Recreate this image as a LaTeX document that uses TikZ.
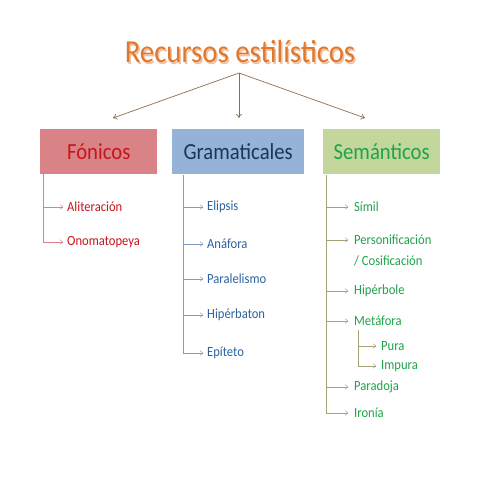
\documentclass[tikz,border=0pt]{standalone}
\usepackage{fontspec}
\usepackage{graphicx}
\setmainfont{Carlito}
\usetikzlibrary{arrows.meta}
\definecolor{titlec}{HTML}{E0782F}
\definecolor{brownl}{HTML}{8C6E4E}
\definecolor{redfill}{HTML}{D98387}
\definecolor{redtxt}{HTML}{C4161C}
\definecolor{redline}{HTML}{D98387}
\definecolor{bluefill}{HTML}{95B3D7}
\definecolor{bluetxt}{HTML}{17375E}
\definecolor{blueitem}{HTML}{2B63A0}
\definecolor{blueline}{HTML}{7F9CC4}
\definecolor{greenfill}{HTML}{C3D69B}
\definecolor{greentxt}{HTML}{1FA34A}
\definecolor{greenline}{HTML}{A8A27A}
\newcommand{\nar}[1]{\scalebox{0.9}[1]{#1}}
\tikzset{
  cat/.style={draw=none, minimum height=45pt, inner sep=0pt, font=\fontsize{23}{26}\selectfont, anchor=north west},
  item/.style={anchor=west, inner sep=0pt, font=\fontsize{14}{16}\selectfont},
  tip/.style={-{To[length=3pt,width=5pt]}, line width=0.5pt},
  main/.style={-{To[length=4pt,width=6pt]}, line width=0.7pt, draw=brownl},
}
\begin{document}
\begin{tikzpicture}[x=1pt,y=-1pt]
\useasboundingbox (0,0) rectangle (480,480);
\fill[white] (0,0) rectangle (480,480);
% title
\node[text=titlec!45, font=\fontsize{32}{36}\selectfont] at (241.5,53.5) {\nar{Recursos estilísticos}};
\node (title) [text=titlec, font=\fontsize{32}{36}\selectfont] at (240,52) {\nar{Recursos estilísticos}};
\coordinate (o) at (239,73);
% boxes
\node (fon) [cat, fill=redfill, text=redtxt, minimum width=117pt] at (40,129) {\nar{Fónicos}};
\node (gra) [cat, fill=bluefill, text=bluetxt, minimum width=132pt] at (172,129) {\nar{Gramaticales}};
\node (sem) [cat, fill=greenfill, text=greentxt, minimum width=117pt] at (323,129) {\nar{Semánticos}};
\coordinate (a1) at (113,118);
\coordinate (a2) at (239,118);
\coordinate (a3) at (365,118);
\draw[main] (o) -- (a1);
\draw[main] (o) -- (a2);
\draw[main] (o) -- (a3);
% Fonicos items
\begin{scope}[every node/.style={item, text=redtxt}]
\node (f1) at (67,207) {\nar{Aliteración}};
\node (f2) at (67,242) {\nar{Onomatopeya}};
\end{scope}
\coordinate (fb) at (43,174);
\draw[redline, line width=0.5pt] (fb) -- (43,242);
\foreach \n in {f1,f2}{\draw[tip, redline] (43,0 |- \n.west) -- ([xshift=-4pt]\n.west);}
% Gramaticales items
\begin{scope}[every node/.style={item, text=blueitem}]
\node (g1) at (207,207) {\nar{Elipsis}};
\node (g2) at (207,244) {\nar{Anáfora}};
\node (g3) at (207,279) {\nar{Paralelismo}};
\node (g4) at (207,315) {\nar{Hipérbaton}};
\node (g5) at (207,353) {\nar{Epíteto}};
\end{scope}
\draw[blueline, line width=0.5pt] (183,175) -- (183,353);
\foreach \n in {g1,g2,g3,g4,g5}{\draw[tip, blueline] (183,0 |- \n.west) -- ([xshift=-4pt]\n.west);}
% Semanticos items
\begin{scope}[every node/.style={item, text=greentxt}]
\node (s1) at (354,207) {\nar{Símil}};
\node (s2) at (354,240) {\nar{Personificación}};
\node (s2b) at (354,261) {\nar{/ Cosificación}};
\node (s3) at (354,291) {\nar{Hipérbole}};
\node (s4) at (354,321) {\nar{Metáfora}};
\node (s5) at (381,346) {\nar{Pura}};
\node (s6) at (381,366) {\nar{Impura}};
\node (s7) at (354,387) {\nar{Paradoja}};
\node (s8) at (354,413) {\nar{Ironía}};
\end{scope}
\draw[greenline, line width=0.5pt] (326,175) -- (326,413);
\foreach \n in {s1,s2,s3,s4,s7,s8}{\draw[tip, greenline] (326,0 |- \n.west) -- ([xshift=-6pt]\n.west);}
\draw[greenline, line width=0.5pt] (358,330) -- (358,366);
\foreach \n in {s5,s6}{\draw[tip, greenline] (358,0 |- \n.west) -- ([xshift=-5pt]\n.west);}
\end{tikzpicture}
\end{document}
